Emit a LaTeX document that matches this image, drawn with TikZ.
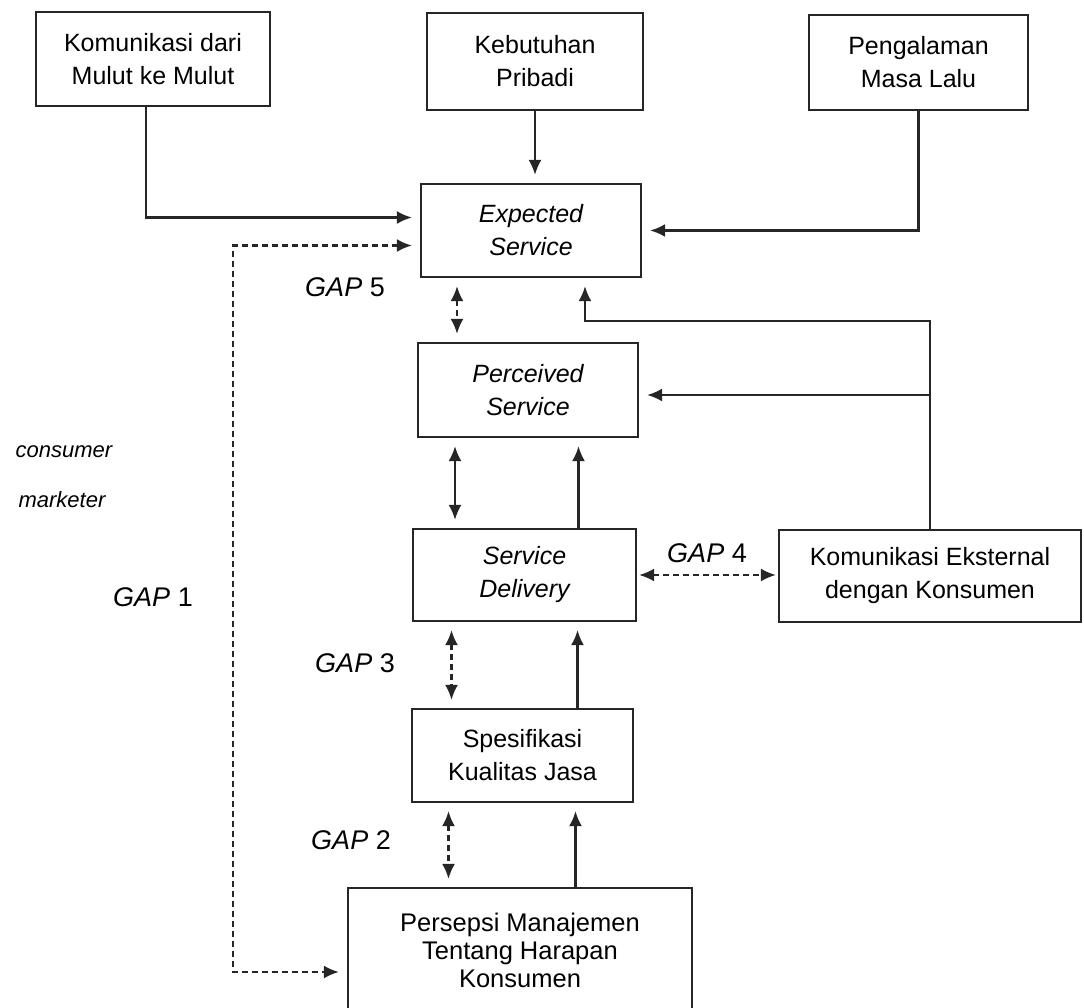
\documentclass[tikz,border=0pt]{standalone}
\usepackage{fontspec}
\setmainfont{Liberation Sans}
\usetikzlibrary{arrows.meta,calc}
\begin{document}
\begin{tikzpicture}[x=1pt,y=-1pt,
  ink/.style={draw=black!85, line width=2.2pt},
  box/.style={ink, rectangle, align=center, inner sep=0pt, font=\fontsize{25}{33}\selectfont},
  ibox/.style={box, font=\fontsize{25}{33}\selectfont\itshape},
  tip/.tip={Latex[length=15pt,width=13pt]},
  arr/.style={ink, -tip, shorten >=8pt},
  darr/.style={ink, tip-tip, shorten >=8pt, shorten <=8pt},
  gap/.style={ink, dash pattern=on 6pt off 4pt, tip-tip, shorten >=8pt, shorten <=8pt},
  lab/.style={font=\fontsize{27}{32}\selectfont, inner sep=0pt},
  side/.style={font=\fontsize{22}{26}\selectfont\itshape, inner sep=0pt}
]
\useasboundingbox (0,0) rectangle (1084,1007);
\clip (0,0) rectangle (1084,1007);

% boxes
\node[box, minimum width=234pt, minimum height=94pt] (kdm) at (153,59) {Komunikasi dari\\Mulut ke Mulut};
\node[box, minimum width=216pt, minimum height=97pt] (kp) at (535,61.5) {Kebutuhan\\Pribadi};
\node[box, minimum width=219pt, minimum height=95pt] (pml) at (918.5,62.5) {Pengalaman\\Masa Lalu};
\node[ibox, minimum width=220pt, minimum height=93pt] (exp) at (531,230.5) {Expected\\Service};
\node[ibox, minimum width=220pt, minimum height=94pt] (per) at (528,390) {Perceived\\Service};
\node[ibox, minimum width=223pt, minimum height=92pt] (sd) at (524.5,575) {Service\\Delivery};
\node[box, minimum width=302pt, minimum height=92pt] (ke) at (930,576) {Komunikasi Eksternal\\dengan Konsumen};
\node[box, minimum width=221pt, minimum height=93pt] (spk) at (522.5,755.5) {Spesifikasi\\Kualitas Jasa};
\node[box, font=\fontsize{25.5}{28}\selectfont, minimum width=344pt, minimum height=124pt] (pmk) at (520,950) {Persepsi Manajemen\\Tentang Harapan\\Konsumen};

% labels
\node[lab] (g5) at (345,287) {\textit{GAP} 5};
\node[lab] (g1) at (153,597) {\textit{GAP} 1};
\node[lab] (g4) at (707,553) {\textit{GAP} 4};
\node[lab] (g3) at (355,663) {\textit{GAP} 3};
\node[lab] (g2) at (351,840) {\textit{GAP} 2};
\node[side] (cons) at (64,452) {consumer};
\node[side] (mark) at (62,500) {marketer};

% helper coordinates
\path ([yshift=13pt]exp.west) coordinate (expw1)
      ([yshift=-15pt]exp.west) coordinate (expw2)
      ([yshift=-22pt]pmk.west) coordinate (pmkw)
      (233,245.5) coordinate (c1top)
      (233,972) coordinate (c1bot)
      ([xshift=-74pt]exp.south) coordinate (e5)
      ([xshift=54pt]exp.south) coordinate (e4)
      ([yshift=-5pt]per.east) coordinate (pe)
      ([xshift=-73pt]per.south) coordinate (p1)
      ([xshift=54pt]sd.north) coordinate (s2)
      ([xshift=-73pt]sd.south) coordinate (s3)
      ([xshift=55pt]spk.north) coordinate (k2)
      ([xshift=-74pt]spk.south) coordinate (k3)
      ([xshift=53pt]spk.south) coordinate (k4);

% connectors
\draw[arr] ([xshift=-7pt]kdm.south) |- (expw1);
\draw[gap] (expw2) -- (c1top) -- (c1bot) -- (pmkw);
\draw[arr] (kp.south) -- (kp.south |- exp.north);
\draw[arr] (pml.south) |- (exp.east);
\draw[gap] (e5) -- (e5 |- per.north);
\draw[arr] (ke.north) -- ++(0,-208) -| (e4);
\draw[arr] (ke.north |- pe) -- (pe);
\draw[darr] (p1) -- (p1 |- sd.north);
\draw[arr] (s2) -- (s2 |- per.south);
\draw[gap, shorten >=2pt, shorten <=2pt] (sd.east) -- (sd.east -| ke.west);
\draw[gap] (s3) -- (s3 |- spk.north);
\draw[arr] (k2) -- (k2 |- sd.south);
\draw[gap] (k3) -- (k3 |- pmk.north);
\draw[arr] (k4 |- pmk.north) -- (k4);
\end{tikzpicture}
\end{document}
